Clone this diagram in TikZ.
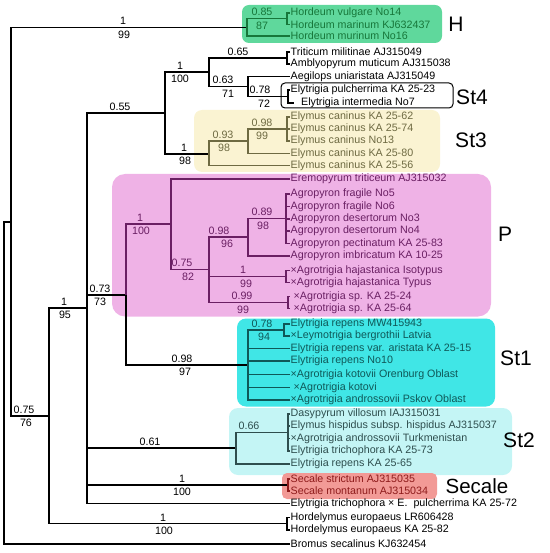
\documentclass[tikz,border=0pt]{standalone}
\usepackage{fontspec}
\setmainfont{Liberation Sans}
\definecolor{Hfill}{HTML}{5FD89C}
\definecolor{Htxt}{HTML}{17773A}
\definecolor{Sthreefill}{HTML}{FAF3D2}
\definecolor{Sthreetxt}{HTML}{6E6A42}
\definecolor{Pfill}{HTML}{EFB2E6}
\definecolor{Ptxt}{HTML}{6A1F63}
\definecolor{Sonefill}{HTML}{40E6E6}
\definecolor{Sonetxt}{HTML}{0F5858}
\definecolor{Stwofill}{HTML}{C4F5F5}
\definecolor{Stwotxt}{HTML}{2E4E4E}
\definecolor{Secfill}{HTML}{F29A96}
\definecolor{Sectxt}{HTML}{8E1B1B}
\begin{document}
\begin{tikzpicture}[x=1bp,y=-1bp,
  lbl/.style={font=\fontsize{10.7bp}{12bp}\selectfont},
  leaf/.style={lbl, anchor=west, inner xsep=1bp, inner ysep=0pt},
  pp/.style={lbl, anchor=south, inner sep=0pt, yshift=2.5bp},
  bs/.style={lbl, anchor=north, inner sep=0pt, yshift=-3bp},
  grp/.style={font=\fontsize{21bp}{24bp}\selectfont, inner sep=0pt},
  tree/.style={line width=1.1bp}
]
\useasboundingbox (0,0) rectangle (550,553);

% coloured boxes
\fill[Hfill, rounded corners=7bp] (242,5) rectangle (442,43);
\draw[line width=1bp, rounded corners=4bp] (281,83) rectangle (453,108);
\fill[Sthreefill, rounded corners=8bp] (194,110) rectangle (440,172);
\fill[Pfill, rounded corners=13bp] (112,174) rectangle (491,316.5);
\fill[Sonefill, rounded corners=9bp] (237,318.5) rectangle (495,406.5);
\fill[Stwofill, rounded corners=9bp] (229,408) rectangle (512,475);
\fill[Secfill, rounded corners=5bp] (282,473) rectangle (437,499);

% group labels
\node[grp] (gH) at (456,24) {H};
\node[grp] (gS4) at (472,97) {St4};
\node[grp] (gS3) at (471,140) {St3};
\node[grp] (gP) at (505,234) {P};
\node[grp] (gS1) at (516,358) {St1};
\node[grp] (gS2) at (519,440) {St2};
\node[grp, font=\fontsize{20.5bp}{24bp}\selectfont] (gSec) at (477,486) {Secale};

% internal nodes
\coordinate (R) at (4,383);
\coordinate (A) at (11,222);
\coordinate (Hn) at (247,27.5);
\coordinate (Hi) at (287,18.75);
\coordinate (B) at (49,416);
\coordinate (C) at (87,308);
\coordinate (D) at (165,113);
\coordinate (F) at (209,72);
\coordinate (Tn) at (287,58);
\coordinate (G) at (248,86.5);
\coordinate (S4) at (288,96.5);
\coordinate (S3) at (209,154);
\coordinate (S3a) at (248,141);
\coordinate (S3b) at (287,129);
\coordinate (E) at (126,295);
\coordinate (Pn) at (171,224);
\coordinate (P2) at (209,269.5);
\coordinate (P3) at (248,237);
\coordinate (P4) at (286,218.75);
\coordinate (Haj) at (286,276.5);
\coordinate (Sp) at (288,302.5);
\coordinate (S1) at (248,365);
\coordinate (S1a) at (284,330);
\coordinate (S2) at (236,448);
\coordinate (S2a) at (288,432.5);
\coordinate (Sec) at (288,485);
\coordinate (Hy) at (287,523.75);

% leaves
\node[leaf, Htxt] (l1) at (289.5,13) {Hordeum vulgare No14};
\node[leaf, Htxt] (l2) at (289.5,24.5) {Hordeum marinum KJ632437};
\node[leaf, Htxt] (l3) at (289.5,36) {Hordeum murinum No16};
\node[leaf] (l4) at (289.5,52) {Triticum militinae AJ315049};
\node[leaf] (l5) at (289.5,64) {Amblyopyrum muticum AJ315038};
\node[leaf] (l6) at (289.5,76.5) {Aegilops uniaristata AJ315049};
\node[leaf] (l7) at (289.5,90) {Elytrigia pulcherrima KA 25-23};
\node[leaf] (l8) at (294,103) {\ \ Elytrigia intermedia No7};
\node[leaf, Sthreetxt] (l9) at (289.5,117) {Elymus caninus KA 25-62};
\node[leaf, Sthreetxt] (l10) at (289.5,129) {Elymus caninus KA 25-74};
\node[leaf, Sthreetxt] (l11) at (289.5,141) {Elymus caninus No13};
\node[leaf, Sthreetxt] (l12) at (289.5,153.5) {Elymus caninus KA 25-80};
\node[leaf, Sthreetxt] (l13) at (289.5,165.5) {Elymus caninus KA 25-56};
\node[leaf, Ptxt] (l14) at (289.5,179) {Eremopyrum triticeum AJ315032};
\node[leaf, Ptxt] (l15) at (289.5,194) {Agropyron fragile No5};
\node[leaf, Ptxt] (l16) at (289.5,206.5) {Agropyron fragile No6};
\node[leaf, Ptxt] (l17) at (289.5,219) {Agropyron desertorum No3};
\node[leaf, Ptxt] (l18) at (289.5,231) {Agropyron desertorum No4};
\node[leaf, Ptxt] (l19) at (289.5,243.5) {Agropyron pectinatum KA 25-83};
\node[leaf, Ptxt] (l20) at (289.5,256) {Agropyron imbricatum KA 10-25};
\node[leaf, Ptxt] (l21) at (289.5,270.5) {×Agrotrigia hajastanica Isotypus};
\node[leaf, Ptxt] (l22) at (289.5,282.5) {×Agrotrigia hajastanica Typus};
\node[leaf, Ptxt] (l23) at (289.5,296.5) {\ ×Agrotrigia sp. KA 25-24};
\node[leaf, Ptxt] (l24) at (289.5,308.5) {\ ×Agrotrigia sp. KA 25-64};
\node[leaf, Sonetxt] (l25) at (289.5,324) {Elytrigia repens MW415943};
\node[leaf, Sonetxt] (l26) at (289.5,336) {×Leymotrigia bergrothii Latvia};
\node[leaf, Sonetxt] (l27) at (289.5,348.5) {Elytrigia repens var. aristata KA 25-15};
\node[leaf, Sonetxt] (l28) at (289.5,361) {Elytrigia repens No10};
\node[leaf, Sonetxt] (l29) at (289.5,374.5) {×Agrotrigia kotovii Orenburg Oblast};
\node[leaf, Sonetxt] (l30) at (289.5,387.5) {\ ×Agrotrigia kotovi};
\node[leaf, Sonetxt] (l31) at (289.5,400) {×Agrotrigia androssovii Pskov Oblast};
\node[leaf, Stwotxt] (l32) at (289.5,414) {Dasypyrum villosum IAJ315031};
\node[leaf, Stwotxt] (l33) at (289.5,426) {Elymus hispidus subsp. hispidus AJ315037};
\node[leaf, Stwotxt] (l34) at (289.5,438.5) {×Agrotrigia androssovii Turkmenistan};
\node[leaf, Stwotxt] (l35) at (289.5,451) {Elytrigia trichophora KA 25-73};
\node[leaf, Stwotxt] (l36) at (289.5,464) {Elytrigia repens KA 25-65};
\node[leaf, Sectxt] (l37) at (289.5,479) {Secale strictum AJ315035};
\node[leaf, Sectxt] (l38) at (289.5,491) {Secale montanum AJ315034};
\node[leaf] (l39) at (289.5,503.5) {Elytrigia trichophora × E.\ \ pulcherrima KA 25-72};
\node[leaf] (l40) at (289.5,517.5) {Hordelymus europaeus LR606428};
\node[leaf] (l41) at (289.5,530) {Hordelymus europaeus KA 25-82};
\node[leaf] (l42) at (289.5,544) {Bromus secalinus KJ632454};

% black branches
\begin{scope}[tree]
\draw (R) |- (A);
\draw (R) |- (l42.west);
\draw (A) |- (Hn);
\draw (A) |- (B);
\draw (B) |- (C);
\draw (B) |- (Hy);
\draw (Hy) |- (l40.west);
\draw (Hy) |- (l41.west);
\draw (C) |- (D);
\draw (C) |- (E);
\draw (C) |- (S2);
\draw (C) |- (Sec);
\draw (C) |- (l39.west);
\draw (D) |- (F);
\draw (D) |- (S3);
\draw (F) |- (Tn);
\draw (F) |- (G);
\draw (Tn) |- (l4.west);
\draw (Tn) |- (l5.west);
\draw (G) |- (l6.west);
\draw (G) |- (S4);
\draw (S4) |- (l7.west);
\draw (S4) |- (l8.west);
\draw (E) |- (S1);
\end{scope}
% H clade
\begin{scope}[tree, Htxt]
\draw (Hn) |- (Hi);
\draw (Hn) |- (l3.west);
\draw (Hi) |- (l1.west);
\draw (Hi) |- (l2.west);
\end{scope}
% St3 clade
\begin{scope}[tree, Sthreetxt]
\draw (S3) |- (S3a);
\draw (S3) |- (l13.west);
\draw (S3a) |- (S3b);
\draw (S3a) |- (l12.west);
\draw (S3b) |- (l9.west);
\draw (S3b) |- (l10.west);
\draw (S3b) |- (l11.west);
\end{scope}
% P clade
\begin{scope}[tree, Ptxt]
\draw (E) |- (Pn);
\draw (Pn) |- (l14.west);
\draw (Pn) |- (P2);
\draw (P2) |- (P3);
\draw (P2) |- (Haj);
\draw (P2) |- (Sp);
\draw (P3) |- (P4);
\draw (P3) |- (l20.west);
\foreach \i in {15,...,19} {\draw (P4) |- (l\i.west);}
\draw (Haj) |- (l21.west);
\draw (Haj) |- (l22.west);
\draw (Sp) |- (l23.west);
\draw (Sp) |- (l24.west);
\end{scope}
% St1 clade
\begin{scope}[tree, Sonetxt]
\draw (S1) |- (S1a);
\foreach \i in {27,...,31} {\draw (S1) |- (l\i.west);}
\draw (S1a) |- (l25.west);
\draw (S1a) |- (l26.west);
\end{scope}
% St2 clade
\begin{scope}[tree, Stwotxt]
\draw (S2) |- (S2a);
\draw (S2) |- (l36.west);
\foreach \i in {32,...,35} {\draw (S2a) |- (l\i.west);}
\end{scope}
% Secale clade
\begin{scope}[tree, Sectxt]
\draw (Sec) |- (l37.west);
\draw (Sec) |- (l38.west);
\end{scope}

% support values
\node[pp] (a1) at (123,27.5) {1};
\node[bs] (b1) at (124,27.5) {99};
\node[pp, Htxt] (a2) at (262,18.75) {0.85};
\node[bs, Htxt] (b2) at (262,18.75) {87};
\node[pp] (a3) at (120,113) {0.55};
\node[pp] (a4) at (180,72) {1};
\node[bs] (b4) at (180,72) {100};
\node[pp] (a5) at (238,58) {0.65};
\node[pp] (a6) at (223,86.5) {0.63};
\node[bs] (b6) at (228,86.5) {71};
\node[pp] (a7) at (260,96.5) {0.78};
\node[bs] (b7) at (264,96.5) {72};
\node[pp] (a8) at (184,154) {1};
\node[bs] (b8) at (185,154) {98};
\node[pp, Sthreetxt] (a9) at (223,141) {0.93};
\node[bs, Sthreetxt] (b9) at (224,141) {98};
\node[pp, Sthreetxt] (a10) at (262,129) {0.98};
\node[bs, Sthreetxt] (b10) at (262,129) {99};
\node[pp] (a11) at (100,295) {0.73};
\node[bs] (b11) at (100,295) {73};
\node[pp, Ptxt] (a12) at (140,224) {1};
\node[bs, Ptxt] (b12) at (141,224) {100};
\node[pp, Ptxt] (a13) at (182,269.5) {0.75};
\node[bs, Ptxt] (b13) at (188,269.5) {82};
\node[pp, Ptxt] (a14) at (219,237) {0.98};
\node[bs, Ptxt] (b14) at (227,237) {96};
\node[pp, Ptxt] (a15) at (262,218.75) {0.89};
\node[bs, Ptxt] (b15) at (263,218.75) {98};
\node[pp, Ptxt] (a16) at (243,276.5) {1};
\node[bs, Ptxt] (b16) at (246,276.5) {99};
\node[pp, Ptxt] (a17) at (242,302.5) {0.99};
\node[bs, Ptxt] (b17) at (243,302.5) {99};
\node[pp] (a18) at (182,365) {0.98};
\node[bs] (b18) at (185,365) {97};
\node[pp, Sonetxt] (a19) at (262,330) {0.78};
\node[bs, Sonetxt] (b19) at (264,330) {94};
\node[pp] (a20) at (150,448) {0.61};
\node[pp, Stwotxt] (a21) at (249,432.5) {0.66};
\node[pp] (a22) at (182,485) {1};
\node[bs] (b22) at (182,485) {100};
\node[pp] (a23) at (163,523.75) {1};
\node[bs] (b23) at (164,523.75) {100};
\node[pp] (a24) at (24,416) {0.75};
\node[bs] (b24) at (26,416) {76};
\node[pp] (a25) at (64,308) {1};
\node[bs] (b25) at (65,308) {95};
\end{tikzpicture}
\end{document}
